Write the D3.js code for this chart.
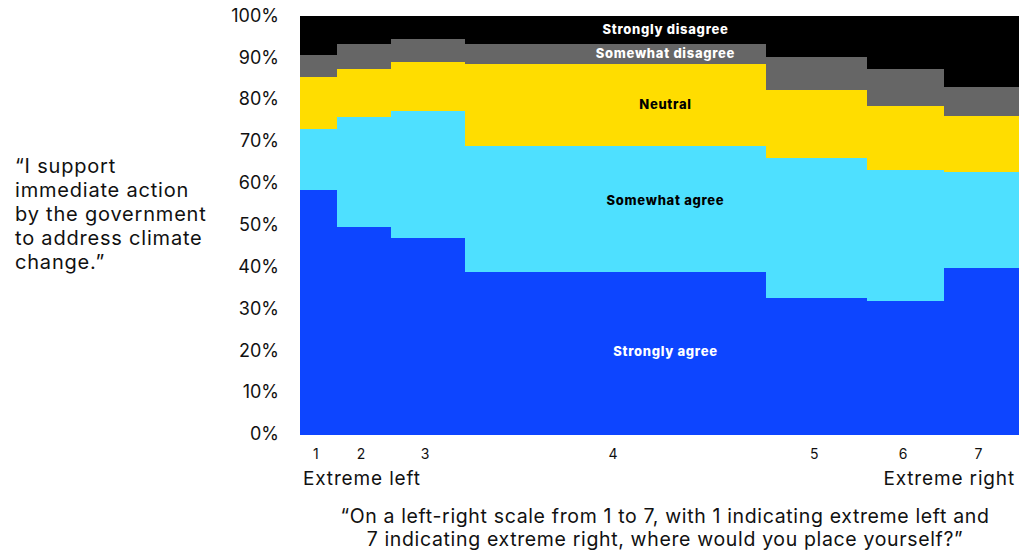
<!DOCTYPE html>
<html>
<head>
<meta charset="utf-8">
<script src="https://cdn.jsdelivr.net/npm/d3@7"></script>
<style>
  html, body { margin: 0; padding: 0; background: #fff; }
  svg { display: block; font-family: "Inter", "Noto Sans", sans-serif; }
</style>
</head>
<body>
<svg id="chart" width="1026" height="553"></svg>
<script>
// Self-placement on the left-right scale (1 = extreme left, 7 = extreme right)
const positions = ["1", "2", "3", "4", "5", "6", "7"];
// Share of respondents at each position (column widths, %)
const positionShare = [5.1, 7.5, 10.3, 42.0, 14.0, 10.7, 10.3];

// Answer categories, bottom to top
const answers = ["Strongly agree", "Somewhat agree", "Neutral", "Somewhat disagree", "Strongly disagree"];

// Answer distribution within each position (%)
const stronglyAgree    = [58.5, 49.5, 46.9, 38.9, 32.7, 32.0, 39.9];
const somewhatAgree    = [14.4, 26.4, 30.5, 30.0, 33.3, 31.1, 22.9];
const neutral          = [12.6, 11.5, 11.6, 19.6, 16.4, 15.3, 13.4];
const somewhatDisagree = [ 5.3,  6.0,  5.6,  4.9,  7.9,  9.0,  6.9];
const stronglyDisagree = [ 9.2,  6.6,  5.4,  6.6,  9.7, 12.6, 16.9];

const yTicks = [0, 10, 20, 30, 40, 50, 60, 70, 80, 90, 100];

const colors = {
  "Strongly agree": "#0d45ff",
  "Somewhat agree": "#4ee0ff",
  "Neutral": "#ffdd00",
  "Somewhat disagree": "#666666",
  "Strongly disagree": "#000000"
};
const labelColors = {
  "Strongly agree": "#ffffff",
  "Somewhat agree": "#000000",
  "Neutral": "#000000",
  "Somewhat disagree": "#ffffff",
  "Strongly disagree": "#ffffff"
};
// Small vertical nudges for the segment labels (px)
const labelNudge = {
  "Strongly agree": -2,
  "Somewhat agree": -8,
  "Neutral": -1,
  "Somewhat disagree": 0,
  "Strongly disagree": 0
};

// Build rows for the stack
const rows = positions.map((p, i) => ({
  position: p,
  share: positionShare[i],
  "Strongly agree": stronglyAgree[i],
  "Somewhat agree": somewhatAgree[i],
  "Neutral": neutral[i],
  "Somewhat disagree": somewhatDisagree[i],
  "Strongly disagree": stronglyDisagree[i]
}));
// Normalise each column to exactly 100%
rows.forEach(r => {
  const t = d3.sum(answers, a => r[a]);
  answers.forEach(a => r[a] = r[a] / t * 100);
});
// Cumulative column starts
let acc = 0;
rows.forEach(r => { r.x0 = acc; acc += r.share; r.x1 = acc; });
const totalShare = acc;

const svg = d3.select("#chart");
const margin = { left: 300, right: 8, top: 15.5, bottom: 119 };
const W = 1026, H = 553;

const x = d3.scaleLinear().domain([0, totalShare]).range([margin.left, W - margin.right]);
const y = d3.scaleLinear().domain([0, 100]).range([H - margin.bottom, margin.top]);

const series = d3.stack().keys(answers)(rows);

const g = svg.append("g");
series.forEach(s => {
  g.append("g")
    .attr("fill", colors[s.key])
    .selectAll("rect")
    .data(s)
    .join("rect")
    .attr("x", d => x(d.data.x0))
    .attr("width", d => x(d.data.x1) - x(d.data.x0) + 0.5)
    .attr("y", d => y(d[1]))
    .attr("height", d => y(d[0]) - y(d[1]) + 0.5)
    .attr("shape-rendering", "crispEdges");
});

// Segment labels in the widest column (position 4)
const labelCol = positions.indexOf("4");
const labelX = x(totalShare * 0.509);
series.forEach(s => {
  const d = s[labelCol];
  svg.append("text")
    .attr("x", labelX)
    .attr("y", y((d[0] + d[1]) / 2) + labelNudge[s.key])
    .attr("text-anchor", "middle")
    .attr("dominant-baseline", "central")
    .attr("font-size", 13)
    .attr("font-weight", 800)
    .attr("letter-spacing", 0.7)
    .attr("fill", labelColors[s.key])
    .text(s.key);
});

// Y axis (labels only)
const yAxis = d3.axisLeft(y).tickValues(yTicks).tickFormat(d => d + "%").tickSize(0).tickPadding(0);
svg.append("g")
  .attr("transform", `translate(${margin.left - 21},0)`)
  .call(yAxis)
  .call(a => a.select(".domain").remove())
  .call(a => a.selectAll("text")
    .attr("font-size", 18)
    .attr("font-family", "Inter, 'Noto Sans', sans-serif")
    .attr("fill", "#111"));

// X axis: position numbers at column centres
const xAxis = d3.axisBottom(x)
  .tickValues(rows.map(r => (r.x0 + r.x1) / 2))
  .tickFormat((d, i) => positions[i])
  .tickSize(0).tickPadding(0);
svg.append("g")
  .attr("transform", `translate(-3,${H - margin.bottom + 15})`)
  .call(xAxis)
  .call(a => a.select(".domain").remove())
  .call(a => a.selectAll("text")
    .attr("font-size", 14)
    .attr("font-family", "Inter, 'Noto Sans', sans-serif")
    .attr("fill", "#111"));

// End labels
svg.append("text")
  .attr("x", x(0) + 3).attr("y", 485)
  .attr("font-size", 19).attr("letter-spacing", 0.85).attr("fill", "#111")
  .text("Extreme left");
svg.append("text")
  .attr("x", x(totalShare) - 3).attr("y", 485)
  .attr("text-anchor", "end")
  .attr("font-size", 19).attr("letter-spacing", 0.85).attr("fill", "#111")
  .text("Extreme right");

// Axis titles
const yTitle = ["“I support", "immediate action", "by the government", "to address climate", "change.”"];
svg.append("text")
  .attr("font-size", 20).attr("letter-spacing", 0.8).attr("fill", "#111")
  .selectAll("tspan")
  .data(yTitle)
  .join("tspan")
  .attr("x", 15)
  .attr("y", (d, i) => 173 + i * 24)
  .text(d => d);

const xTitle = ["“On a left-right scale from 1 to 7, with 1 indicating extreme left and",
                "7 indicating extreme right, where would you place yourself?”"];
svg.append("text")
  .attr("font-size", 19.5).attr("letter-spacing", 0.65).attr("fill", "#111")
  .attr("text-anchor", "middle")
  .selectAll("tspan")
  .data(xTitle)
  .join("tspan")
  .attr("x", 665)
  .attr("y", (d, i) => 523 + i * 23)
  .text(d => d);
</script>
</body>
</html>
